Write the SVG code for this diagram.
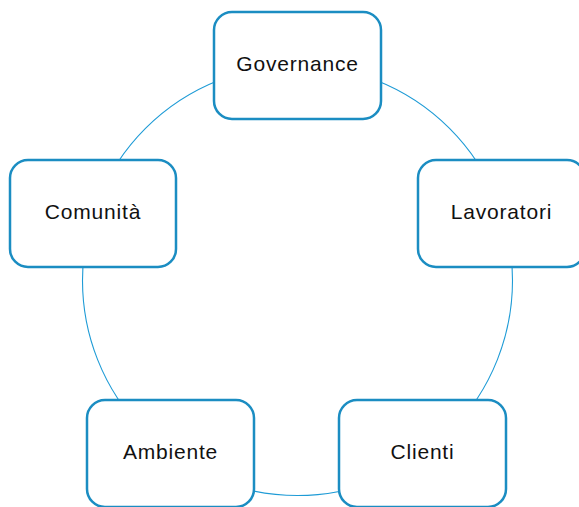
<svg xmlns="http://www.w3.org/2000/svg" width="579" height="507" viewBox="0 0 579 507">
<style>
.node rect{fill:#ffffff;stroke:#1b8dc2;stroke-width:2.5}
.node text{font-family:"Liberation Sans",Arial,sans-serif;font-size:21px;fill:#111111;text-anchor:middle;letter-spacing:0.8px}
.conn{fill:none;stroke:#1e9bd6;stroke-width:1.1}
</style>
<rect width="579" height="507" fill="#ffffff"/>
<g id="connectors">
<circle class="conn" cx="297.5" cy="280.5" r="215"/>
</g>
<g id="governance" class="node"><rect x="214" y="12" width="167" height="107" rx="18"/><text x="297.5" y="71">Governance</text></g>
<g id="lavoratori" class="node"><rect x="418" y="160" width="167" height="107" rx="18"/><text x="501.5" y="219">Lavoratori</text></g>
<g id="clienti" class="node"><rect x="339" y="400" width="167" height="107" rx="18"/><text x="422.5" y="459">Clienti</text></g>
<g id="ambiente" class="node"><rect x="87" y="400" width="167" height="107" rx="18"/><text x="170.5" y="459">Ambiente</text></g>
<g id="comunita" class="node"><rect x="10" y="160" width="166" height="107" rx="18"/><text x="93" y="219">Comunità</text></g>
</svg>
